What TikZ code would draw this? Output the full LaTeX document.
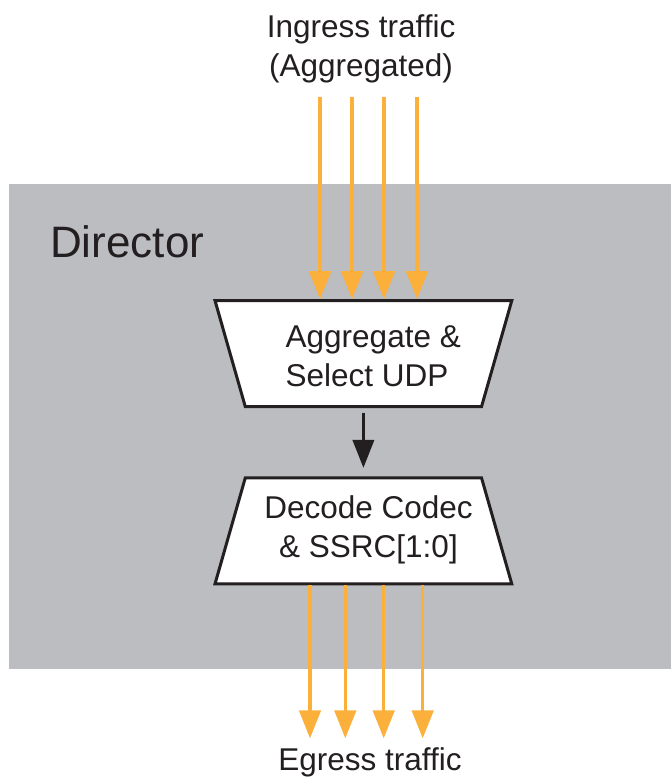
\documentclass[tikz,border=0pt]{standalone}
\usepackage{fontspec}
\setmainfont{Liberation Sans}
\usetikzlibrary{arrows.meta,shapes.geometric}
\definecolor{dirgray}{RGB}{188,189,192}
\definecolor{traffic}{RGB}{251,176,59}
\definecolor{ink}{RGB}{35,31,32}
\begin{document}
\begin{tikzpicture}[x=1pt,y=-1pt,
    flow/.style={draw=traffic,line width=3.2pt,-{Triangle[width=21.5pt,length=28pt]}},
    ctrl/.style={draw=ink,line width=2.5pt,-{Triangle[width=21.5pt,length=28pt]}},
    stage/.style={trapezium,trapezium stretches,draw=ink,fill=white,line width=3pt,minimum width=296.7pt,minimum height=106pt,inner sep=2pt},
    txt/.style={text=ink,inner sep=0pt,font=\fontsize{31.5}{39}\selectfont}]
            \useasboundingbox (0,0) rectangle (671,778);
            \fill[dirgray] (9,184) rectangle (671,669);
            \node[txt,anchor=base west,font=\fontsize{44}{50}\selectfont] (director) at (50,257) {Director};
            \node[stage,trapezium left angle=97.3,trapezium right angle=97.3] (agg) at (363.4,353.7) {};
            \node[stage,trapezium left angle=82.7,trapezium right angle=82.7] (decode) at (363.4,530.8) {};
            \node[txt,align=left,anchor=north west] (aggtext) at (285.5,326) {Aggregate \&\\Select UDP};
            \node[txt,align=center,anchor=north] (decodetext) at (368.5,495) {Decode Codec\\\& SSRC[1:0]};
            \node[txt,align=center,anchor=north] (ingress) at (361,14) {Ingress traffic\\(Aggregated)};
            \node[txt,anchor=base] (egress) at (370,770) {Egress traffic};
            \foreach \x [count=\i] in {320,352,384,417}
                \coordinate (in\i) at (\x,96.7);
            \foreach \x [count=\i] in {310,345.3,383.7,422.7}
                \coordinate (out\i) at (\x,738.3);
            \foreach \i in {1,...,4}{
                \draw[flow] (in\i) -- (in\i |- agg.north);
                \draw[flow] (out\i |- decode.south) -- (out\i);
            }
            \draw[ctrl,shorten <=4.5pt,shorten >=8.5pt] (agg.south) -- (decode.north);
    \end{tikzpicture}
\end{document}
